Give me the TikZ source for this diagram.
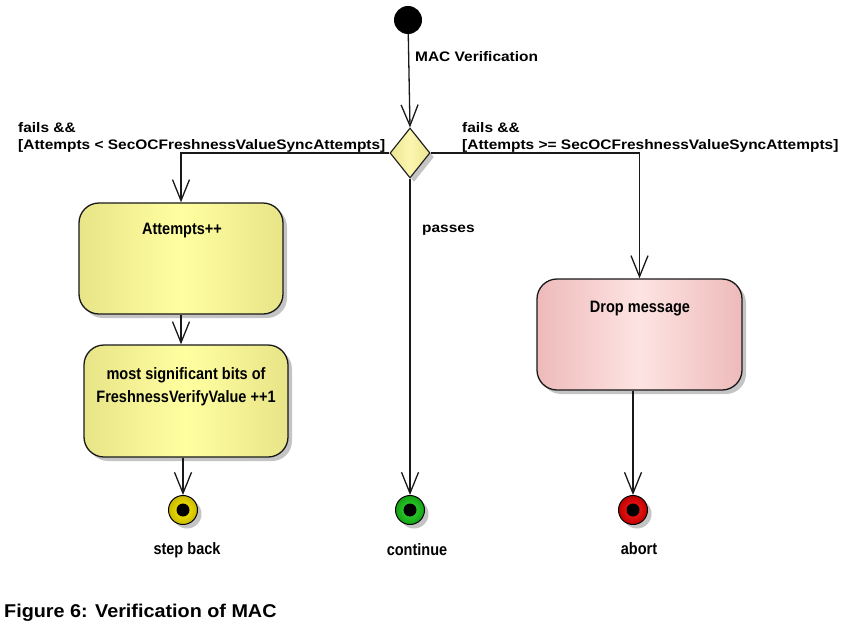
\documentclass[tikz,border=0pt]{standalone}
\usepackage{fontspec}
\setmainfont{Liberation Sans}
\newfontfamily\lblf[FakeStretch=1.12]{Liberation Sans}
\newfontfamily\boxf[FakeStretch=0.88]{Liberation Sans}
\newfontfamily\capf[FakeStretch=1.07]{Liberation Sans}
\usetikzlibrary{arrows.meta,shapes.geometric}
\definecolor{yedge}{HTML}{E8E488}
\definecolor{ymid}{HTML}{FFFFA0}
\definecolor{pedge}{HTML}{EEBABA}
\definecolor{pmid}{HTML}{FDE4E2}
\definecolor{dedge}{HTML}{EDE592}
\definecolor{dmid}{HTML}{FBF6B0}
\definecolor{shadowc}{HTML}{C4C4C4}
\definecolor{yout}{HTML}{C9B800}
\definecolor{yin}{HTML}{FFF300}
\definecolor{gout}{HTML}{12A012}
\definecolor{gin}{HTML}{3BE03B}
\definecolor{rout}{HTML}{C00000}
\definecolor{rin}{HTML}{FF2020}
\tikzset{
  flow/.style={line width=1.3pt, draw=black!90, -{Straight Barb[length=21pt,width=17pt,line width=1.3pt]}},
  shadowed/.style={preaction={draw=none, fill=shadowc, transform canvas={xshift=4pt,yshift=-4pt}}},
  actbox/.style={shadowed, draw=black!90, line width=1.3pt, rounded corners=20pt, inner sep=0pt},
  yellowbox/.style={actbox, left color=yedge, right color=yedge, middle color=ymid},
  pinkbox/.style={actbox, left color=pedge, right color=pedge, middle color=pmid},
  decision/.style={shadowed, diamond, draw=black!90, line width=1.1pt, inner sep=0pt,
      minimum width=40pt, minimum height=50pt, left color=dedge, right color=dedge, middle color=dmid},
  initnode/.style={circle, fill=black, inner sep=0pt, minimum size=28pt},
  finalnode/.style={shadowed, circle, draw=black, line width=1pt, inner sep=0pt, minimum size=29pt},
  lbl/.style={inner sep=0pt, anchor=base west, font=\lblf\bfseries\fontsize{13.8}{16}\selectfont},
  boxtxt/.style={inner sep=0pt, anchor=base, font=\boxf\bfseries\fontsize{16.5}{20}\selectfont},
  captxt/.style={inner sep=0pt, anchor=base west, font=\capf\bfseries\fontsize{18.5}{22}\selectfont},
}
\begin{document}
\begin{tikzpicture}[x=1pt,y=-1pt]
\useasboundingbox (0,0) rectangle (842,629);
% nodes
\node[initnode] (start) at (408,20) {};
\node[decision] (dec) at (410,153) {};
\node[yellowbox, minimum width=204pt, minimum height=111pt] (att) at (181,258.5) {};
\node[yellowbox, minimum width=204pt, minimum height=112pt] (msb) at (186,401) {};
\node[pinkbox, minimum width=205pt, minimum height=111pt] (drop) at (639.5,334.5) {};
\node[finalnode, inner color=yin, outer color=yout] (sb) at (183,510) {};
\node[finalnode, inner color=gin, outer color=gout] (cont) at (410,510) {};
\node[finalnode, inner color=rin, outer color=rout] (abort) at (633,510) {};
\fill (sb.center) circle (6.5pt);
\fill (cont.center) circle (6.5pt);
\fill (abort.center) circle (6.5pt);
% texts in boxes
\node[boxtxt] (atttxt) at (182,234) {Attempts++};
\node[boxtxt] (msbtxt1) at (186,379) {most significant bits of};
\node[boxtxt] (msbtxt2) at (186,402) {FreshnessVerifyValue ++1};
\node[boxtxt] (droptxt) at (640,312) {Drop message};
\node[boxtxt] (sbtxt) at (187,554) {step back};
\node[boxtxt] (conttxt) at (417,555) {continue};
\node[boxtxt] (aborttxt) at (639,554) {abort};
% connectors
\draw[flow] (start) -- (dec.north);
\draw[flow] (dec.west) -| (att.north);
\draw[flow] (dec.east) -| (drop.north);
\draw[flow] (dec.south) -- (cont.north);
\draw[flow] (att.south) -- (att.south |- msb.north);
\draw[flow] (sb.north |- msb.south) -- (sb.north);
\draw[flow] (abort.north |- drop.south) -- (abort.north);
% labels
\node[lbl] (macv) at (415,61) {MAC Verification};
\node[lbl] (passes) at (422,232) {passes};
\node[lbl] (lf1) at (18,132) {fails \&\&};
\node[lbl] (lf2) at (18,149) {[Attempts < SecOCFreshnessValueSyncAttempts]};
\node[lbl] (rf1) at (462,132) {fails \&\&};
\node[lbl] (rf2) at (462,149) {[Attempts >= SecOCFreshnessValueSyncAttempts]};
\node[captxt] (cap) at (4,617) {Figure 6: Verification of MAC};
\end{tikzpicture}
\end{document}
